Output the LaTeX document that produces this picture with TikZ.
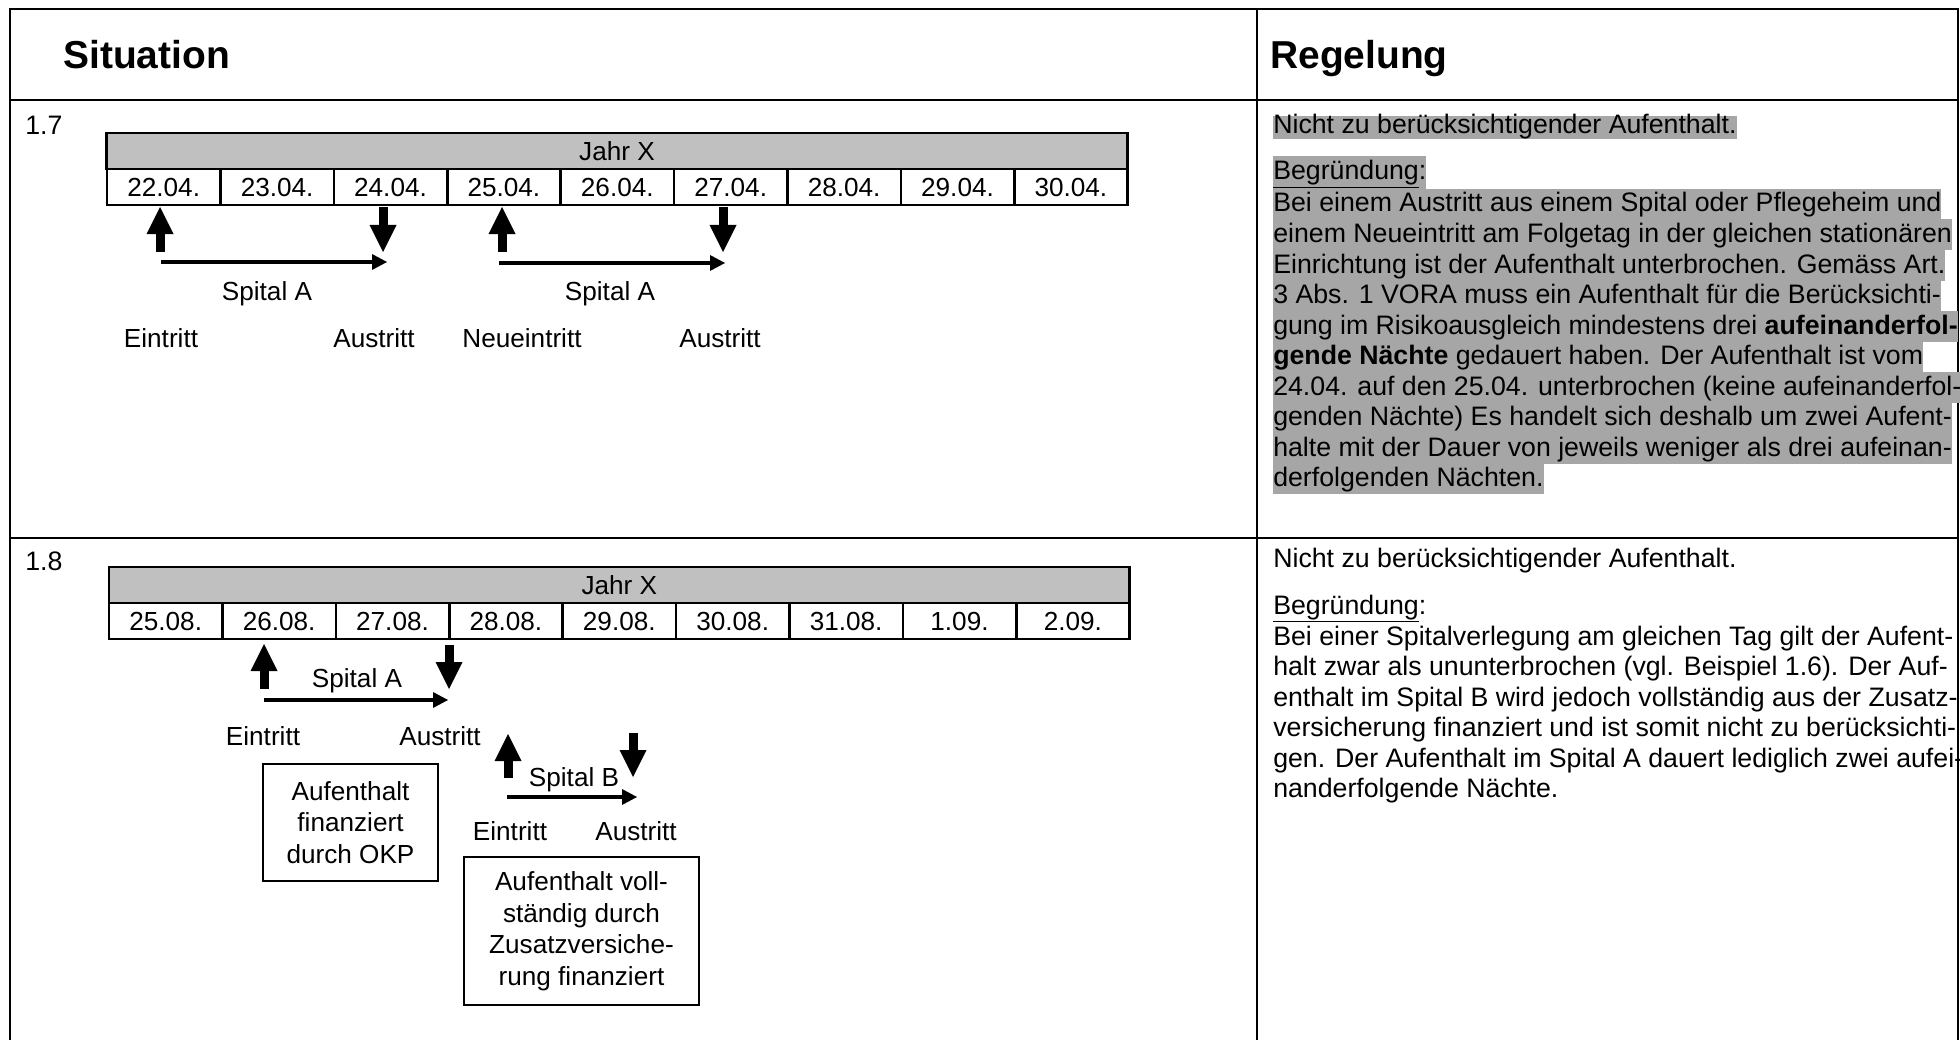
\documentclass[tikz,border=0pt]{standalone}
\usepackage{fontspec}
\setmainfont{Liberation Sans}
\usepackage{tikz}
\usetikzlibrary{arrows.meta}
\definecolor{jahrgray}{RGB}{192,192,192}
\definecolor{hlgray}{RGB}{166,166,166}
\newcommand{\headfont}{\fontsize{27.7}{33}\selectfont\bfseries}
\newcommand{\bodyfont}{\fontsize{19}{22}\selectfont}
\newcommand{\diagfont}{\fontsize{18.6}{22.4}\selectfont}
\tikzstyle{frame} = [draw, line width=0.5mm]
\tikzstyle{yearcell} = [draw, line width=0.65mm, fill=jahrgray, minimum width=255.15mm, minimum height=9mm, inner sep=0pt, font=\diagfont]
\tikzstyle{daycell} = [draw, line width=0.65mm, minimum width=28.35mm, minimum height=9mm, inner sep=0pt, font=\diagfont]
\tikzstyle{diaglabel} = [anchor=base, inner sep=0pt, font=\diagfont]
\tikzstyle{note} = [draw, line width=0.45mm, align=center, inner sep=0pt, font=\diagfont]
\tikzstyle{bigarrow} = [line width=2.25mm, -{Triangle[length=6.75mm, width=6.75mm, line width=0pt]}]
\tikzstyle{stay} = [line width=1mm, -{Triangle[length=3.75mm, width=4mm, line width=0pt]}]
\tikzstyle{textline} = [anchor=base west, inner sep=0pt, font=\bodyfont]
\tikzstyle{marked} = [textline, fill=hlgray, text height=5.75mm, text depth=1.95mm]

\begin{document}
\begin{tikzpicture}[x=0.25mm, y=-0.25mm]
    \useasboundingbox (0,0) rectangle (1960,1040);
    % Table frame
    \draw[frame] (10,1040) -- (10,9) -- (1958,9) -- (1958,1040);
    \draw[frame] (10,100) -- (1958,100);
    \draw[frame] (10,538) -- (1958,538);
    \draw[frame] (1257,9) -- (1257,1040);
    \node[anchor=base west, inner sep=0pt, font=\headfont] (sit) at (63,69) {Situation};
    \node[anchor=base west, inner sep=0pt, font=\headfont] (reg) at (1270,69) {Regelung};

    % Case 1.7
    \node[textline] (n17) at (25,135) {1.7};
    \node[yearcell] (yearA) at (617,151) {Jahr X};
    \foreach \d [count=\i] in {22.04.,23.04.,24.04.,25.04.,26.04.,27.04.,28.04.,29.04.,30.04.}
        \node[daycell] (a\i) at ({107+113.4*(\i-0.5)},187) {\d};
    \coordinate (in1) at (160,252); \coordinate (in1t) at (160,207);
    \coordinate (out1) at (383,207); \coordinate (out1t) at (383,252);
    \coordinate (in2) at (502,252); \coordinate (in2t) at (502,207);
    \coordinate (out2) at (723,207); \coordinate (out2t) at (723,252);
    \coordinate (stay1) at (161,262); \coordinate (stay1t) at (387,262);
    \coordinate (stay2) at (499,263); \coordinate (stay2t) at (725,263);
    \draw[bigarrow] (in1) -- (in1t);
    \draw[bigarrow] (out1) -- (out1t);
    \draw[bigarrow] (in2) -- (in2t);
    \draw[bigarrow] (out2) -- (out2t);
    \draw[stay] (stay1) -- (stay1t);
    \draw[stay] (stay2) -- (stay2t);
    \node[diaglabel] (spA1) at (267,300) {Spital A};
    \node[diaglabel] (spA2) at (610,300) {Spital A};
    \node[diaglabel] (ein1) at (161,347) {Eintritt};
    \node[diaglabel] (aus1) at (374,347) {Austritt};
    \node[diaglabel] (neu1) at (522,347) {Neueintritt};
    \node[diaglabel] (aus2) at (720,347) {Austritt};
    % Ruling 1.7
    \node[marked, text height=4.5mm, text depth=1.25mm] (rA) at (1273,134) {Nicht zu berücksichtigender Aufenthalt.};
    \node[marked, text height=6mm, text depth=2.25mm] (rAb) at (1273,180) {\underline{Begründung}:};
    \foreach \ln [count=\k from 0] in {{Bei einem Austritt aus einem Spital oder Pflegeheim und},
        {einem Neueintritt am Folgetag in der gleichen stationären},
        {Einrichtung ist der Aufenthalt unterbrochen. Gemäss Art.},
        {3 Abs. 1 VORA muss ein Aufenthalt für die Berücksichti-},
        {gung im Risikoausgleich mindestens drei \textbf{aufeinanderfol-}},
        {\textbf{gende Nächte} gedauert haben. Der Aufenthalt ist vom},
        {24.04. auf den 25.04. unterbrochen (keine aufeinanderfol-},
        {genden Nächte) Es handelt sich deshalb um zwei Aufent-},
        {halte mit der Dauer von jeweils weniger als drei aufeinan-},
        {derfolgenden Nächten.}}
        \node[marked] (rA\k) at (1273,212+30.5*\k) {\ln};

    % Case 1.8
    \node[textline] (n18) at (25,570) {1.8};
    \node[yearcell] (yearB) at (619.3,585) {Jahr X};
    \foreach \d [count=\i] in {25.08.,26.08.,27.08.,28.08.,29.08.,30.08.,31.08.,1.09.,2.09.}
        \node[daycell] (b\i) at ({109+113.4*(\i-0.5)},621) {\d};
    \coordinate (in3) at (264,689); \coordinate (in3t) at (264,644);
    \coordinate (out3) at (449,645); \coordinate (out3t) at (449,689);
    \coordinate (in4) at (508,778); \coordinate (in4t) at (508,734);
    \coordinate (out4) at (633,733); \coordinate (out4t) at (633,777);
    \coordinate (stay3) at (264,700); \coordinate (stay3t) at (448,700);
    \coordinate (stay4) at (507,797); \coordinate (stay4t) at (637,797);
    \draw[bigarrow] (in3) -- (in3t);
    \draw[bigarrow] (out3) -- (out3t);
    \draw[bigarrow] (in4) -- (in4t);
    \draw[bigarrow] (out4) -- (out4t);
    \draw[stay] (stay3) -- (stay3t);
    \draw[stay] (stay4) -- (stay4t);
    \node[diaglabel] (spA3) at (357,687) {Spital A};
    \node[diaglabel] (ein3) at (263,745) {Eintritt};
    \node[diaglabel] (aus3) at (440,745) {Austritt};
    \node[diaglabel] (spB) at (574,786) {Spital B};
    \node[diaglabel] (ein4) at (510,840) {Eintritt};
    \node[diaglabel] (aus4) at (636,840) {Austritt};
    \node[note, minimum width=43.75mm, minimum height=29.25mm] (okp) at (350.5,822.5) {Aufenthalt\\finanziert\\durch OKP};
    \node[note, minimum width=58.75mm, minimum height=37mm] (zusatz) at (581.5,931) {Aufenthalt voll-\\ständig durch\\Zusatzversiche-\\rung finanziert};
    % Ruling 1.8
    \node[textline] (rB) at (1273,567) {Nicht zu berücksichtigender Aufenthalt.};
    \node[textline] (rBb) at (1273,614) {\underline{Begründung}:};
    \foreach \ln [count=\k from 0] in {{Bei einer Spitalverlegung am gleichen Tag gilt der Aufent-},
        {halt zwar als ununterbrochen (vgl. Beispiel 1.6). Der Auf-},
        {enthalt im Spital B wird jedoch vollständig aus der Zusatz-},
        {versicherung finanziert und ist somit nicht zu berücksichti-},
        {gen. Der Aufenthalt im Spital A dauert lediglich zwei aufei-},
        {nanderfolgende Nächte.}}
        \node[textline] (rB\k) at (1273,645+30.5*\k) {\ln};
\end{tikzpicture}
\end{document}
